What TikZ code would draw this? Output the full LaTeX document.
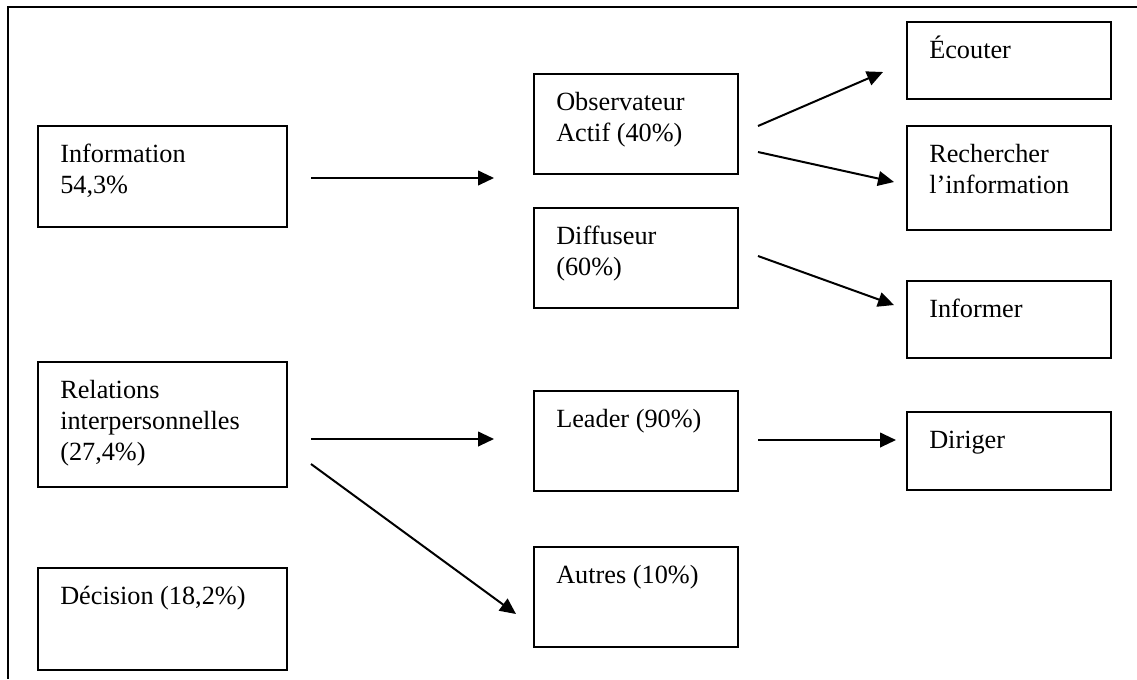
\documentclass[tikz,border=0pt]{standalone}
\usepackage{fontspec}
\setmainfont{Liberation Serif}
\usetikzlibrary{arrows.meta,fit}
\begin{document}
\begin{tikzpicture}[x=0.75pt,y=-0.75pt,
  box/.style={draw, line width=1.4pt, inner sep=0pt},
  txt/.style={anchor=north west, align=left, inner sep=0pt, font=\fontsize{19.7}{23.5}\selectfont},
  arr/.style={line width=1.5pt, -{Triangle[length=12pt,width=11pt]}},
  framestyle/.style={line width=1.5pt}]
\useasboundingbox (0,0) rectangle (1137,679);
% outer frame (top and left only)
\coordinate (f0) at (8,7); \coordinate (f1) at (1137,7); \coordinate (f2) at (8,679);
\draw[framestyle] (f1) -- (f0) -- (f2);
% boxes
\node[box, fit={(38,126) (287,227)}] (info) {};
\node[box, fit={(534,74) (738,174)}] (obs) {};
\node[box, fit={(534,208) (738,308)}] (diff) {};
\node[box, fit={(907,22) (1111,99)}] (ecout) {};
\node[box, fit={(907,126) (1111,230)}] (rech) {};
\node[box, fit={(907,281) (1111,358)}] (inform) {};
\node[box, fit={(38,362) (287,487)}] (rel) {};
\node[box, fit={(38,568) (287,670)}] (dec) {};
\node[box, fit={(534,391) (738,491)}] (lead) {};
\node[box, fit={(534,547) (738,647)}] (autr) {};
\node[box, fit={(907,412) (1111,490)}] (dirig) {};
% texts
\node[txt] (infoT) at (60,140) {\strut Information\\\strut 54,3\%};
\node[txt] (obsT) at (556,88) {\strut Observateur\\\strut Actif (40\%)};
\node[txt] (diffT) at (556,222) {\strut Diffuseur\\\strut (60\%)};
\node[txt] (ecoutT) at (929,36) {\strut Écouter};
\node[txt] (rechT) at (929,140) {\strut Rechercher\\\strut l’information};
\node[txt] (informT) at (929,295) {\strut Informer};
\node[txt] (relT) at (60,376) {\strut Relations\\\strut interpersonnelles\\\strut (27,4\%)};
\node[txt] (decT) at (60,582) {\strut Décision (18,2\%)};
\node[txt] (leadT) at (556,405) {\strut Leader (90\%)};
\node[txt] (autrT) at (556,561) {\strut Autres (10\%)};
\node[txt] (dirigT) at (929,426) {\strut Diriger};
% arrow end points
\coordinate (a1s) at (311,178); \coordinate (a1e) at (494,178);
\coordinate (a2s) at (758,126); \coordinate (a2e) at (883,72);
\coordinate (a3s) at (758,152); \coordinate (a3e) at (894,182);
\coordinate (a4s) at (758,256); \coordinate (a4e) at (894,305);
\coordinate (a5s) at (311,439); \coordinate (a5e) at (494,439);
\coordinate (a6s) at (311,464); \coordinate (a6e) at (516,614);
\coordinate (a7s) at (758,440); \coordinate (a7e) at (896,440);
\draw[arr] (a1s) -- (a1e);
\draw[arr] (a2s) -- (a2e);
\draw[arr] (a3s) -- (a3e);
\draw[arr] (a4s) -- (a4e);
\draw[arr] (a5s) -- (a5e);
\draw[arr] (a6s) -- (a6e);
\draw[arr] (a7s) -- (a7e);
\end{tikzpicture}
\end{document}
